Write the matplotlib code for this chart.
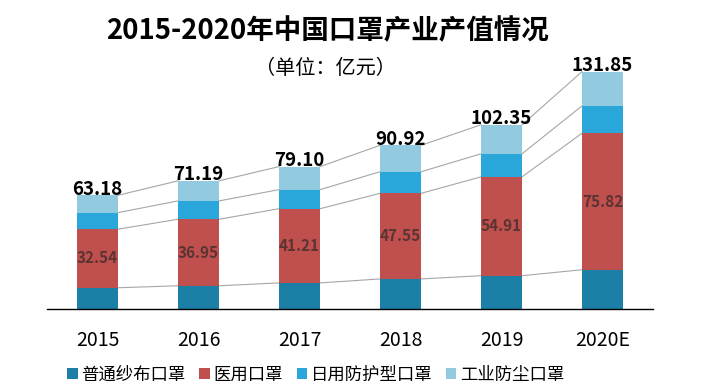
import matplotlib
matplotlib.use("Agg")
import matplotlib.pyplot as plt
import numpy as np
from matplotlib.patches import Patch

plt.rcParams["font.family"] = ["Noto Sans CJK SC", "DejaVu Sans"]

# 数据（亿元）
years = ["2015", "2016", "2017", "2018", "2019", "2020E"]
gauze = [11.8, 12.9, 14.5, 16.7, 18.5, 21.8]          # 普通纱布口罩
medical = [32.54, 36.95, 41.21, 47.55, 54.91, 75.82]  # 医用口罩
daily = [9.2, 10.2, 10.6, 12.0, 12.8, 15.2]           # 日用防护型口罩
industrial = [9.64, 11.14, 12.79, 14.67, 16.14, 19.03]  # 工业防尘口罩
totals = [63.18, 71.19, 79.10, 90.92, 102.35, 131.85]

names = ["普通纱布口罩", "医用口罩", "日用防护型口罩", "工业防尘口罩"]
colors = ["#1B7FA6", "#C0504D", "#2AA7DA", "#92CADF"]

fig = plt.figure(figsize=(7.16, 3.9), dpi=100)
ax = fig.add_axes([47 / 716, 81 / 390, 606 / 716, 252 / 390])

x = np.arange(len(years))
w = 0.406
series = [gauze, medical, daily, industrial]
bottom = np.zeros(len(years))
tops = []
for vals, c in zip(series, colors):
    vals = np.array(vals)
    ax.bar(x, vals, w, bottom=bottom, color=c, zorder=2)
    bottom = bottom + vals
    tops.append(bottom.copy())

# 系列线
for cum in tops:
    for i in range(len(years) - 1):
        ax.plot([x[i] + w / 2, x[i + 1] - w / 2], [cum[i], cum[i + 1]],
                color="#A6A6A6", lw=0.8, zorder=1)

# 医用口罩数值
for i, v in enumerate(medical):
    ax.text(x[i], gauze[i] + v / 2, f"{v:.2f}", ha="center", va="center",
            fontsize=11, fontweight="bold", color="#5B3333", zorder=3)

# 合计
for i, t in enumerate(totals):
    ax.text(x[i], t + 0.4, f"{t:.2f}", ha="center", va="baseline",
            fontsize=13.5, fontweight="bold", color="black", zorder=3)

ax.set_xlim(-0.5, len(years) - 0.5)
ax.set_ylim(0, 140)
ax.set_xticks(x)
ax.set_xticklabels(years, fontsize=14)
ax.tick_params(axis="x", length=0, pad=15)
ax.set_yticks([])
for s in ("top", "right", "left"):
    ax.spines[s].set_visible(False)
ax.spines["bottom"].set_color("black")
ax.spines["bottom"].set_linewidth(1.0)

handles = [Patch(facecolor=c, label=n) for n, c in zip(names, colors)]
fig.legend(handles=handles, loc="center", bbox_to_anchor=(0.441, 1 - 375 / 390),
           ncol=4, frameon=False, fontsize=12.5, handlelength=0.6, handleheight=0.6,
           handletextpad=0.2, columnspacing=0.8)

fig.text(0.458, 1 - 31 / 390, "2015-2020年中国口罩产业产值情况", ha="center", va="center",
         fontsize=19.8, fontweight="bold")
fig.text(0.455, 1 - 69 / 390, "（单位：亿元）", ha="center", va="center", fontsize=14.5)

fig.savefig("out.png", dpi=100)
